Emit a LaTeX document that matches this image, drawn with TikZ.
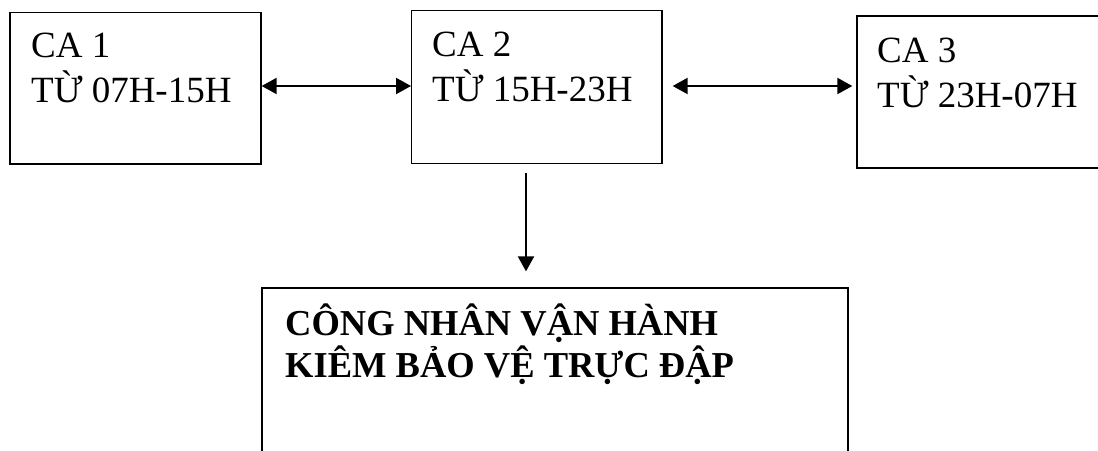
\documentclass[tikz,border=0pt]{standalone}
\usepackage{fontspec}
\setmainfont{Liberation Serif}
\usetikzlibrary{arrows.meta}
\tikzset{
  box/.style={draw=black, line width=1.3pt, inner sep=0pt, fill=none},
  label/.style={anchor=base west, inner sep=0pt, align=left, font=\fontsize{37}{45}\selectfont},
  blabel/.style={anchor=base west, inner sep=0pt, align=left, font=\fontsize{36.5}{41.5}\selectfont\bfseries},
  conn/.style={line width=2pt, -{Triangle[length=15pt,width=16pt]}},
  conn2/.style={line width=2pt, {Triangle[length=15pt,width=16pt]}-{Triangle[length=15pt,width=16pt]}}
}
\begin{document}
\begin{tikzpicture}[x=1pt,y=-1pt]
\useasboundingbox (0,0) rectangle (1098,450);
\clip (0,0) rectangle (1098,450);
\fill[white] (0,0) rectangle (1098,450);
% boxes
\node[box, minimum width=251pt, minimum height=151.3pt] (ca1) at (135.5,88.3) {};
\node[box, minimum width=250.3pt, minimum height=152.6pt] (ca2) at (536.85,87) {};
\node[box, minimum width=260pt, minimum height=152pt] (ca3) at (987,92) {};
\node[box, minimum width=586pt, minimum height=200pt] (cn) at (555,388) {};
% texts (base anchor = last line's baseline)
\node[label] (ca1t) at (31,102) {CA 1\\TỪ 07H-15H};
\node[label] (ca2t) at (432,101) {CA 2\\TỪ 15H-23H};
\node[label] (ca3t) at (877,107) {CA 3\\TỪ 23H-07H};
\node[blabel] (cnt) at (285,377) {CÔNG NHÂN VẬN HÀNH\\KIÊM BẢO VỆ TRỰC ĐẬP};
% connectors
\coordinate (a1s) at (ca1.east |- 0,86);
\coordinate (a1e) at (ca2.west |- 0,86);
\draw[conn2] (a1s) -- (a1e);
\coordinate (a2s) at ([xshift=10pt]ca2.east |- 0,86);
\coordinate (a2e) at ([xshift=-4pt]ca3.west |- 0,86);
\draw[conn2] (a2s) -- (a2e);
\coordinate (vs) at (526,172.7);
\coordinate (ve) at (vs |- cn.north);
\draw[conn] (vs) -- ([yshift=16pt]ve);
\end{tikzpicture}
\end{document}
